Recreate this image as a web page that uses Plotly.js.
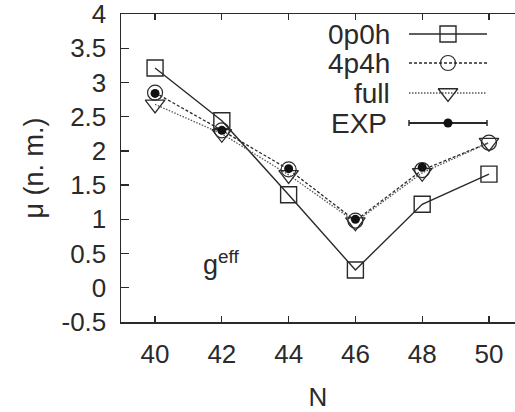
<!DOCTYPE html>
<html>
<head>
<meta charset="utf-8">
<script src="https://cdn.plot.ly/plotly-3.0.1.min.js"></script>
<style>html,body{margin:0;padding:0;background:#fff;}#chart{width:515px;height:412px;}</style>
</head>
<body>
<div id="chart"></div>
<script>
// ---- data ----
const N = [40, 42, 44, 46, 48, 50];
const mu0p0h = [3.21, 2.44, 1.36, 0.26, 1.22, 1.66];
const mu4p4h = [2.85, 2.30, 1.73, 0.98, 1.72, 2.12];
const muFull = [2.68, 2.25, 1.65, 0.96, 1.68, 2.12];
const NExp = [40, 42, 44, 46, 48];
const muExp = [2.84, 2.30, 1.74, 1.00, 1.76];
const seriesNames = ['0p0h', '4p4h', 'full', 'EXP'];
const xTickVals = [40, 42, 44, 46, 48, 50];
const yTickVals = [-0.5, 0, 0.5, 1, 1.5, 2, 2.5, 3, 3.5, 4];
const yTickText = ['-0.5', '0', '0.5', '1', '1.5', '2', '2.5', '3', '3.5', '4'];

// ---- style ----
const ink = '#2a2a2a';
const font = 'Liberation Sans, Arial, sans-serif';
const styles = [
  {line: {color: ink, width: 1.4, dash: 'solid'}, marker: {symbol: 'square-open', size: 16, color: ink, line: {width: 1.4, color: ink}}},
  {line: {color: ink, width: 1.3, dash: '3px,2px'}, marker: {symbol: 'circle-open', size: 15, color: ink, line: {width: 1.2, color: ink}}},
  {line: {color: '#555', width: 1.3, dash: '1.5px,1.5px'}, marker: {symbol: 'triangle-down-open', size: 17, color: ink, line: {width: 1.3, color: ink}}},
  {line: {color: ink, width: 2.2}, marker: {symbol: 'circle', size: 9, color: '#111'}}
];

const traces = [
  {x: N, y: mu0p0h, mode: 'lines+markers', line: styles[0].line, marker: styles[0].marker},
  {x: N, y: mu4p4h, mode: 'lines+markers', line: styles[1].line, marker: styles[1].marker},
  {x: N, y: muFull, mode: 'lines+markers', line: styles[2].line, marker: styles[2].marker},
  {x: NExp, y: muExp, mode: 'markers', marker: styles[3].marker}
];

// ---- custom legend (text left, sample right), on a pixel-mapped overlay axis ----
const legendRows = [34, 63, 93, 123];   // pixel rows of the legend entries
const legendLine = [409, 448, 487];      // sample start / marker / end
const legendTextRight = 392;
const annotations = [];
seriesNames.forEach((name, i) => {
  const st = styles[i];
  const row = legendRows[i];
  if (i < 3) {
    traces.push({x: legendLine, y: [row, row, row], xaxis: 'x2', yaxis: 'y2', mode: 'lines', line: st.line, hoverinfo: 'skip'});
    traces.push({x: [legendLine[1]], y: [row], xaxis: 'x2', yaxis: 'y2', mode: 'markers', marker: st.marker, hoverinfo: 'skip'});
  } else {
    traces.push({x: [legendLine[0], legendLine[2]], y: [row, row], xaxis: 'x2', yaxis: 'y2', mode: 'lines', line: {color: ink, width: 2.2}, hoverinfo: 'skip'});
    traces.push({x: [legendLine[0], legendLine[0]], y: [row - 3, row + 3], xaxis: 'x2', yaxis: 'y2', mode: 'lines', line: {color: ink, width: 1.5}, hoverinfo: 'skip'});
    traces.push({x: [legendLine[2], legendLine[2]], y: [row - 3, row + 3], xaxis: 'x2', yaxis: 'y2', mode: 'lines', line: {color: ink, width: 1.5}, hoverinfo: 'skip'});
    traces.push({x: [legendLine[1]], y: [row], xaxis: 'x2', yaxis: 'y2', mode: 'markers', marker: st.marker, hoverinfo: 'skip'});
  }
  annotations.push({xref: 'x2', yref: 'y2', x: (i === 3 ? legendTextRight - 3 : legendTextRight), y: row, text: name, showarrow: false,
    xanchor: 'right', yanchor: 'middle', font: {family: font, size: 28, color: ink}});
});

annotations.push({xref: 'x', yref: 'y', x: 41.38, y: 0.36, text: 'g<sup>eff</sup>', showarrow: false,
  xanchor: 'left', yanchor: 'middle', font: {family: font, size: 27, color: ink}});

const layout = {
  width: 515, height: 412,
  margin: {l: 121, r: 0, t: 14, b: 90},
  paper_bgcolor: '#fff', plot_bgcolor: '#fff',
  showlegend: false,
  font: {family: font, color: ink},
  xaxis: {
    range: [38.98, 50.78], tickvals: xTickVals, ticks: 'inside', ticklen: 6, tickwidth: 1.3, tickcolor: ink,
    showline: true, linecolor: ink, linewidth: 1.5, mirror: 'ticks', showgrid: false, zeroline: false,
    tickfont: {family: font, size: 26, color: ink}, ticklabelstandoff: 8, ticklabeloverflow: 'allow',
    title: {text: 'N', font: {family: font, size: 26, color: ink}, standoff: 22}
  },
  yaxis: {
    range: [-0.5, 4], tickvals: yTickVals, ticktext: yTickText, ticks: 'inside', ticklen: 8, tickwidth: 1.3, tickcolor: ink,
    showline: true, linecolor: ink, linewidth: 1.5, showgrid: false, zeroline: false,
    tickfont: {family: font, size: 26, color: ink}, ticklabelstandoff: 8, ticklabeloverflow: 'allow',
    title: {text: 'μ (n. m.)', font: {family: font, size: 27, color: ink}, standoff: 10}
  },
  xaxis2: {range: [121, 515], overlaying: 'x', visible: false, fixedrange: true},
  yaxis2: {range: [322, 14], overlaying: 'y', visible: false, fixedrange: true},
  annotations: annotations
};

Plotly.newPlot('chart', traces, layout, {displayModeBar: false, staticPlot: true});
</script>
</body>
</html>
